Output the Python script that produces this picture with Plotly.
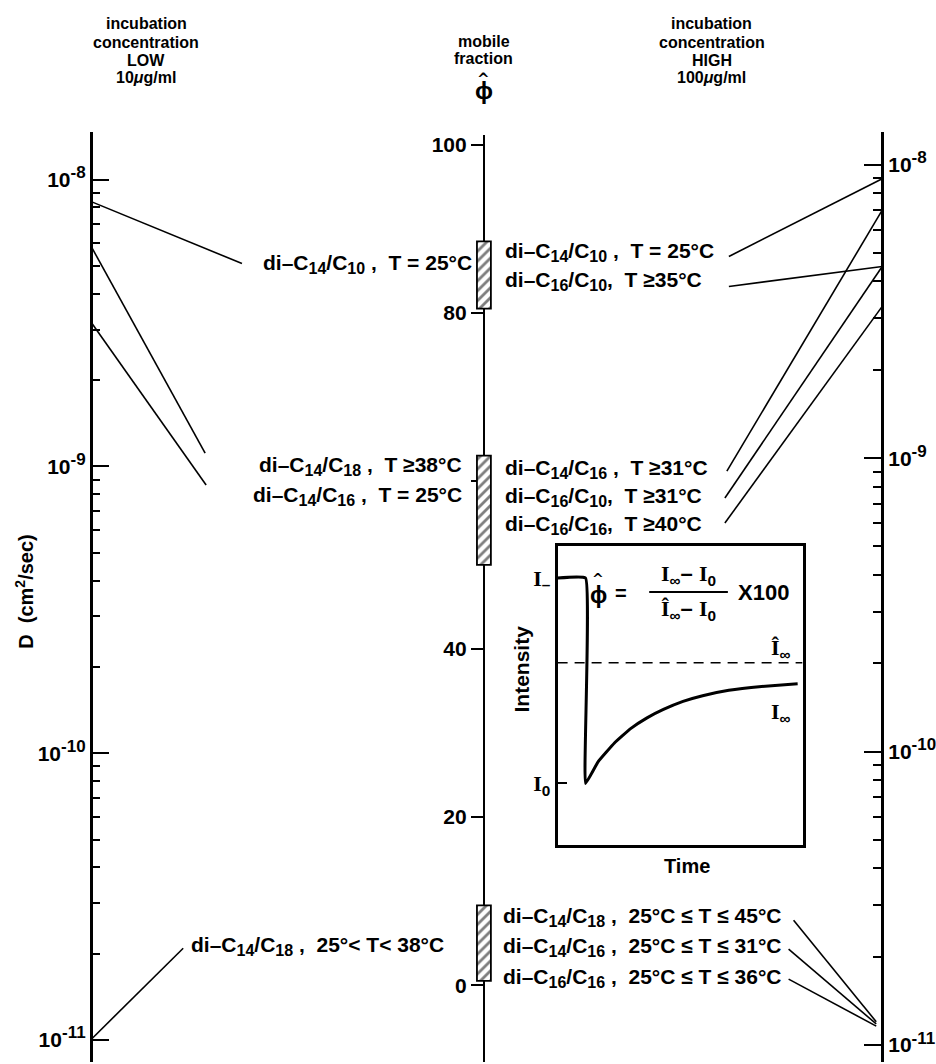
import plotly.graph_objects as go

W, H = 936, 1064

# ---------------- data ----------------
decade_vals = [1e-8, 1e-9, 1e-10, 1e-11]
decade_exp = ["-8", "-9", "-10", "-11"]
decade_text = ['10<sup><span style="font-size:17px">' + e + '</span></sup>' for e in decade_exp]
minor_mult = [2, 3, 4, 5, 6, 7, 8, 9]
minor_vals = [m * d for d in [1e-9, 1e-10, 1e-11] for m in minor_mult]

phi_ticks = [0, 20, 40, 60, 80, 100]
phi_ticktext = ["0", "20", "40", "", "80", "100"]


def sub(s):
    return '<sub><span style="font-size:16px">' + s + '</span></sub>'


# LOW incubation concentration (10 ug/ml): D values on left axis
low_labels = [
    "di–C" + sub("14") + "/C" + sub("10") + " ,  T = 25°C",
    "di–C" + sub("14") + "/C" + sub("18") + " ,  T ≥38°C",
    "di–C" + sub("14") + "/C" + sub("16") + " ,  T = 25°C",
    "di–C" + sub("14") + "/C" + sub("18") + " ,  25°< T< 38°C",
]
low_D = [8.4e-9, 5.9e-9, 3.2e-9, 1.0e-11]

# HIGH incubation concentration (100 ug/ml): D values on right axis
high_labels = [
    "di–C" + sub("14") + "/C" + sub("10") + " ,  T = 25°C",
    "di–C" + sub("16") + "/C" + sub("10") + ",  T ≥35°C",
    "di–C" + sub("14") + "/C" + sub("16") + " ,  T ≥31°C",
    "di–C" + sub("16") + "/C" + sub("10") + ",  T ≥31°C",
    "di–C" + sub("16") + "/C" + sub("16") + ",  T ≥40°C",
    "di–C" + sub("14") + "/C" + sub("18") + " ,  25°C ≤ T ≤ 45°C",
    "di–C" + sub("14") + "/C" + sub("16") + " ,  25°C ≤ T ≤ 31°C",
    "di–C" + sub("16") + "/C" + sub("16") + " ,  25°C ≤ T ≤ 36°C",
]
high_D = [8.96e-9, 4.5e-9, 7.0e-9, 4.5e-9, 3.29e-9, 1.2e-11, 1.18e-11, 1.16e-11]

# mobile fraction ranges (hatched bars)
phi_low = [80.5, 50, 0.5]
phi_high = [88.5, 63, 9.5]

# inset: schematic FRAP recovery
inset_t = [0, 11.4, 11.4, 16.5, 23.2, 29.8, 36.5, 43.2, 51.2, 59.2, 69.9, 83.3, 98.0]
inset_I = [89.3, 89.3, 20.7, 27.9, 34.2, 39.0, 42.6, 45.4, 48.1, 50.0, 51.8, 53.1, 54.0]
I_minus, I_zero, I_inf_hat = 89.3, 20.7, 61.0

# ---------------- layout constants (pixels) ----------------
LX, MX, RX = 91, 486, 886
L_TOP, L_BOT, L_E8, DEC_L = 130, 1062, 178, 287.3
R_TOP, R_BOT, R_E8, DEC_R = 130, 1062, 163, 294.0
M_TOP, M_BOT, M_100, M_0 = 133, 1062, 143, 985
PPU = (M_0 - M_100) / 100.0

left_line_end = [(243, 262), (206, 452), (207, 484), (184, 948)]
left_label_pos = [(476, 262), (466, 465), (466, 495), (448, 946)]
right_line_start = [(732, 255), (732, 285), (730, 470), (728, 497), (728, 522),
                    (797, 920), (792, 949), (792, 979)]
right_line_axis_x = [RX, RX, RX, RX, RX, 880, 880, 880]
right_label_pos = [(505, 250), (505, 280), (505, 468), (505, 496), (505, 524),
                   (503, 917), (503, 947), (503, 978)]

INS_L, INS_R, INS_T, INS_B = 560, 806, 545, 845

FONT = "Liberation Sans"
LBL = 21


def py(p):
    return 1 - p / H


def left_val(p):
    return 10 ** (-8 - (p - L_E8) / DEC_L)


def right_val(p):
    return 10 ** (-8 - (p - R_E8) / DEC_R)


fig = go.Figure()

for D, (ex, ey) in zip(low_D, left_line_end):
    fig.add_trace(go.Scatter(x=[LX, ex], y=[D, left_val(ey)], mode="lines",
                             line=dict(color="black", width=1.6),
                             xaxis="x", yaxis="y", showlegend=False, hoverinfo="skip"))
for D, (sx, sy), ax in zip(high_D, right_line_start, right_line_axis_x):
    fig.add_trace(go.Scatter(x=[sx, ax], y=[right_val(sy), D], mode="lines",
                             line=dict(color="black", width=1.6),
                             xaxis="x", yaxis="y3", showlegend=False, hoverinfo="skip"))

fig.add_trace(go.Bar(x=[MX] * len(phi_low), y=[h - l for l, h in zip(phi_low, phi_high)],
                     base=phi_low, width=14, xaxis="x", yaxis="y2",
                     marker=dict(color="white", line=dict(color="black", width=1.8),
                                 pattern=dict(shape="/", fgcolor="black", bgcolor="white",
                                              size=7, solidity=0.4)),
                     showlegend=False, hoverinfo="skip"))

fig.add_trace(go.Scatter(x=inset_t, y=inset_I, mode="lines",
                         line=dict(color="black", width=3, shape="spline", smoothing=0.3),
                         xaxis="x2", yaxis="y5", showlegend=False, hoverinfo="skip"))
fig.add_trace(go.Scatter(x=[0, 100], y=[I_inf_hat, I_inf_hat], mode="lines",
                         line=dict(color="black", width=1.6, dash="10px,7px"),
                         xaxis="x2", yaxis="y5", showlegend=False, hoverinfo="skip"))

tickfont = dict(family=FONT, size=21, color="black", weight="bold")
minor_cfg = dict(tickmode="array", tickvals=minor_vals, ticks="inside",
                 ticklen=8, tickwidth=2, tickcolor="black", showgrid=False)

fig.update_layout(
    width=W, height=H, autosize=False,
    margin=dict(l=0, r=0, t=0, b=0),
    paper_bgcolor="white", plot_bgcolor="rgba(0,0,0,0)",
    font=dict(family=FONT, size=LBL, color="black", weight="bold"),
    xaxis=dict(range=[0, W], domain=[0, 1], visible=False, fixedrange=True),
    yaxis=dict(type="log", anchor="free", position=LX / W, side="left",
               domain=[py(L_BOT), py(L_TOP)],
               range=[-8 - (L_BOT - L_E8) / DEC_L, -8 + (L_E8 - L_TOP) / DEC_L],
               showline=True, linecolor="black", linewidth=2.6,
               showgrid=False, zeroline=False,
               tickmode="array", tickvals=decade_vals, ticktext=decade_text,
               ticks="inside", ticklen=17, tickwidth=2, tickcolor="black",
               tickfont=tickfont, minor=minor_cfg),
    yaxis3=dict(type="log", anchor="free", position=RX / W, side="right",
                domain=[py(R_BOT), py(R_TOP)],
                range=[-8 - (R_BOT - R_E8) / DEC_R, -8 + (R_E8 - R_TOP) / DEC_R],
                showline=True, linecolor="black", linewidth=2.6,
                showgrid=False, zeroline=False,
                tickmode="array", tickvals=decade_vals, ticktext=decade_text,
                ticks="inside", ticklen=17, tickwidth=2, tickcolor="black",
                tickfont=tickfont, minor=minor_cfg),
    yaxis2=dict(anchor="free", position=MX / W, side="left",
                domain=[py(M_BOT), py(M_TOP)],
                range=[-(M_BOT - M_0) / PPU, 100 + (M_100 - M_TOP) / PPU],
                showline=True, linecolor="black", linewidth=2, layer="below traces",
                showgrid=False, zeroline=False,
                tickmode="array", tickvals=phi_ticks, ticktext=phi_ticktext,
                ticks="outside", ticklen=12, tickwidth=2, tickcolor="black",
                tickfont=tickfont),
    yaxis4=dict(anchor="free", position=MX / W, side="right", overlaying="y2",
                range=[-(M_BOT - M_0) / PPU, 100 + (M_100 - M_TOP) / PPU],
                showline=False, showgrid=False, zeroline=False,
                tickmode="array", tickvals=phi_ticks, showticklabels=False,
                ticks="outside", ticklen=11, tickwidth=2, tickcolor="black",
                layer="below traces"),
    xaxis2=dict(domain=[INS_L / W, INS_R / W], range=[0, 100], anchor="y5",
                showline=True, mirror=True, linecolor="black", linewidth=2.6,
                showgrid=False, zeroline=False, ticks="", showticklabels=False,
                fixedrange=True),
    yaxis5=dict(domain=[py(INS_B), py(INS_T)], range=[0, 100], anchor="x2",
                showline=True, mirror=True, linecolor="black", linewidth=2.6,
                showgrid=False, zeroline=False,
                tickmode="array", tickvals=[I_zero, I_minus],
                ticktext=['<span style="font-family:Liberation Serif">I</span><sub>0</sub>',
                          '<span style="font-family:Liberation Serif">I</span><sub>–</sub>'],
                ticks="inside", ticklen=10, tickwidth=2, tickcolor="black",
                tickfont=dict(family=FONT, size=22, color="black", weight="bold")),
)

ann = []


def add_text(x, y, text, size=LBL, xanchor="center", yanchor="middle", angle=0, family=FONT):
    ann.append(dict(x=x, y=py(y), xref="x", yref="paper", text=text, showarrow=False,
                    xanchor=xanchor, yanchor=yanchor, textangle=angle,
                    font=dict(family=family, size=size, color="black", weight="bold")))


for t, (x, y) in zip(low_labels, left_label_pos):
    add_text(x, y, t, xanchor="right")
for t, (x, y) in zip(high_labels, right_label_pos):
    add_text(x, y, t, xanchor="left")

# headers (one annotation per line)
for t, y in zip(["incubation", "concentration", "LOW", "10<i>μ</i>g/ml"], [22, 41, 59, 76]):
    add_text(147, y, t, size=16)
for t, y in zip(["incubation", "concentration", "HIGH", "100<i>μ</i>g/ml"], [22, 41, 59, 76]):
    add_text(715, y, t, size=16)
add_text(486, 40, "mobile", size=16)
add_text(486, 57, "fraction", size=16)
add_text(486, 89, "ϕ", size=24)
add_text(486, 77, "^", size=15, family="DejaVu Sans")

# axis title
add_text(25, 590, "D  (cm<sup>2</sup>/sec)", size=20, angle=-90)

# inset texts
SI = '<span style="font-family:Liberation Serif">I</span>'
SIH = '<span style="font-family:Liberation Serif">Î</span>'
add_text(601, 594, "ϕ", size=23)
add_text(601, 578, "^", size=14, family="DejaVu Sans")
add_text(624, 592, "=", size=20)
add_text(691, 574, SI + "<sub>∞</sub>– " + SI + "<sub>0</sub>", size=22)
add_text(691, 609, SIH + "<sub>∞</sub>– " + SI + "<sub>0</sub>", size=22)
add_text(767, 592, "X100", size=22)
add_text(784, 648, SIH + "<sub>∞</sub>", size=22)
add_text(784, 712, SI + "<sub>∞</sub>", size=22)
add_text(524, 668, "Intensity", size=21, angle=-90)
add_text(690, 866, "Time", size=20)

fig.update_layout(annotations=ann)
fig.add_shape(type="line", xref="x", yref="paper", x0=652, x1=731, y0=py(591), y1=py(591),
              line=dict(color="black", width=2))

fig.write_html("out.html", config={"displayModeBar": False},
               post_script="document.body.style.margin='0px';")
